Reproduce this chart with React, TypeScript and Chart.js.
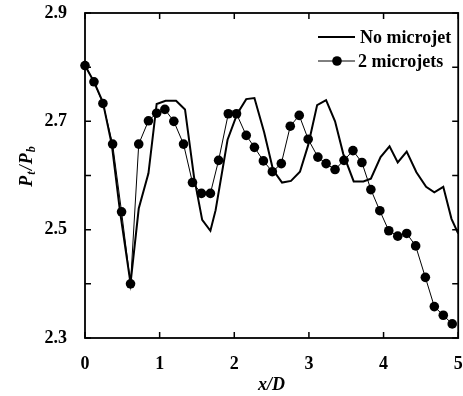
import React, { useEffect, useRef } from "react";
import { Chart, registerables } from "chart.js";

Chart.register(...registerables);

const xNoJet = [0, 0.12, 0.24, 0.36, 0.47, 0.61, 0.72, 0.85, 0.96, 1.08, 1.22, 1.34, 1.46, 1.57, 1.68, 1.75, 1.91, 2.04, 2.16, 2.27, 2.40, 2.52, 2.64, 2.76, 2.88, 2.99, 3.11, 3.23, 3.35, 3.46, 3.60, 3.73, 3.83, 3.96, 4.08, 4.19, 4.31, 4.44, 4.57, 4.68, 4.80, 4.91, 5.0];
const yNoJet = [2.803, 2.773, 2.735, 2.656, 2.533, 2.401, 2.539, 2.604, 2.732, 2.738, 2.738, 2.722, 2.598, 2.518, 2.498, 2.536, 2.666, 2.714, 2.741, 2.743, 2.68, 2.61, 2.587, 2.59, 2.607, 2.656, 2.73, 2.739, 2.70, 2.64, 2.589, 2.589, 2.594, 2.634, 2.654, 2.624, 2.644, 2.606, 2.579, 2.569, 2.579, 2.52, 2.493];

const xTwoJets = [0, 0.12, 0.24, 0.37, 0.49, 0.61, 0.72, 0.85, 0.96, 1.07, 1.19, 1.32, 1.44, 1.56, 1.68, 1.79, 1.92, 2.03, 2.16, 2.27, 2.39, 2.51, 2.63, 2.75, 2.87, 2.99, 3.12, 3.23, 3.35, 3.47, 3.59, 3.71, 3.83, 3.95, 4.07, 4.19, 4.31, 4.43, 4.56, 4.68, 4.80, 4.92];
const yTwoJets = [2.803, 2.773, 2.733, 2.658, 2.533, 2.40, 2.658, 2.701, 2.715, 2.722, 2.70, 2.658, 2.587, 2.567, 2.567, 2.628, 2.714, 2.714, 2.674, 2.652, 2.627, 2.607, 2.622, 2.691, 2.711, 2.667, 2.634, 2.622, 2.611, 2.628, 2.646, 2.624, 2.574, 2.535, 2.498, 2.488, 2.493, 2.470, 2.412, 2.358, 2.342, 2.326];

const xTickValues = [0, 1, 2, 3, 4, 5];
const yTickValues = [2.3, 2.4, 2.5, 2.6, 2.7, 2.8, 2.9];
const yLabelValues = ["2.3", "2.5", "2.7", "2.9"];
const legendLabels = ["No microjet", "2 microjets"];

const SERIF = '"Liberation Serif", "DejaVu Serif", serif';

const framePlugin = {
  id: "frame",
  afterDraw(chart: any) {
    const { ctx, chartArea: a, scales } = chart;
    const xs = scales.x;
    const ys = scales.y;
    ctx.save();
    ctx.strokeStyle = "#000";
    ctx.lineWidth = 1.8;
    ctx.strokeRect(a.left, a.top, a.right - a.left, a.bottom - a.top);
    ctx.lineWidth = 1.5;
    ctx.beginPath();
    xTickValues.forEach((v) => {
      const px = xs.getPixelForValue(v);
      ctx.moveTo(px, a.bottom);
      ctx.lineTo(px, a.bottom - 6);
      ctx.moveTo(px, a.top);
      ctx.lineTo(px, a.top + 6);
    });
    yTickValues.forEach((v) => {
      const py = ys.getPixelForValue(v);
      ctx.moveTo(a.left, py);
      ctx.lineTo(a.left + 6, py);
      ctx.moveTo(a.right, py);
      ctx.lineTo(a.right - 6, py);
    });
    ctx.stroke();

    // Legend
    ctx.fillStyle = "#000";
    ctx.font = `bold 18px ${SERIF}`;
    ctx.textBaseline = "middle";
    ctx.textAlign = "left";
    ctx.lineWidth = 2;
    ctx.beginPath();
    ctx.moveTo(318, 37);
    ctx.lineTo(355, 37);
    ctx.stroke();
    ctx.fillText(legendLabels[0], 360, 38);
    ctx.lineWidth = 1;
    ctx.beginPath();
    ctx.moveTo(318, 61);
    ctx.lineTo(355, 61);
    ctx.stroke();
    ctx.beginPath();
    ctx.arc(337, 61, 4.8, 0, Math.PI * 2);
    ctx.fill();
    ctx.fillText(legendLabels[1], 358, 62);

    // X title
    ctx.font = `italic bold 18px ${SERIF}`;
    ctx.textAlign = "center";
    ctx.fillText("x/D", (a.left + a.right) / 2, 385);

    // Y title with subscripts
    ctx.translate(27, 166);
    ctx.rotate(-Math.PI / 2);
    const big = `italic bold 18px ${SERIF}`;
    const small = `italic bold 12px ${SERIF}`;
    const parts: [string, string, number][] = [
      ["P", big, 0],
      ["t", small, 5],
      ["/", big, 0],
      ["P", big, 0],
      ["b", small, 5],
    ];
    let total = 0;
    parts.forEach(([t, f]) => {
      ctx.font = f;
      total += ctx.measureText(t).width + 1;
    });
    let cx = -total / 2;
    ctx.textAlign = "left";
    parts.forEach(([t, f, dy]) => {
      ctx.font = f;
      ctx.fillText(t, cx, dy);
      cx += ctx.measureText(t).width + 1;
    });
    ctx.restore();
  },
};

export default function App() {
  const ref = useRef<HTMLCanvasElement | null>(null);
  useEffect(() => {
    if (!ref.current) return;
    const noJetData = xNoJet.map((x, i) => ({ x, y: yNoJet[i] }));
    const jetData = xTwoJets.map((x, i) => ({ x, y: yTwoJets[i] }));
    const chart = new Chart(ref.current, {
      type: "line",
      data: {
        datasets: [
          {
            label: legendLabels[0],
            data: noJetData,
            borderColor: "#000",
            borderWidth: 2,
            pointRadius: 0,
            tension: 0,
            clip: false as any,
          },
          {
            label: legendLabels[1],
            data: jetData,
            borderColor: "#000",
            backgroundColor: "#000",
            borderWidth: 1,
            pointRadius: 4.8,
            pointBackgroundColor: "#000",
            pointBorderColor: "#000",
            pointBorderWidth: 0,
            tension: 0,
            clip: false as any,
          },
        ],
      },
      options: {
        animation: false,
        responsive: false,
        maintainAspectRatio: false,
        layout: { padding: { top: 13, right: 1, left: 0, bottom: 0 } },
        plugins: {
          legend: { display: false },
          tooltip: { enabled: false },
        },
        scales: {
          x: {
            type: "linear",
            min: 0,
            max: 5,
            border: { display: false },
            grid: { display: false },
            ticks: {
              stepSize: 1,
              color: "#000",
              padding: 8,
              font: { family: SERIF, size: 18, weight: "bold" },
              maxRotation: 0,
            },
            afterFit: (s: any) => {
              s.height = 58;
              s.paddingLeft = 0;
              s.paddingRight = 0;
            },
          },
          y: {
            type: "linear",
            min: 2.3,
            max: 2.9,
            border: { display: false },
            grid: { display: false },
            ticks: {
              stepSize: 0.1,
              color: "#000",
              padding: 10,
              font: { family: SERIF, size: 18, weight: "bold" },
              callback: (v: any) => {
                const s = Number(v).toFixed(1);
                return yLabelValues.includes(s) ? s : "";
              },
            },
            afterFit: (s: any) => {
              s.width = 85;
              s.paddingTop = 0;
              s.paddingBottom = 0;
            },
          },
        },
      },
      plugins: [framePlugin],
    });
    return () => chart.destroy();
  }, []);
  return (
    <div style={{ position: "fixed", left: 0, top: 0, width: 463, height: 396, background: "#fff" }}>
      <canvas ref={ref} width={463} height={396} style={{ width: 463, height: 396 }} />
    </div>
  );
}
